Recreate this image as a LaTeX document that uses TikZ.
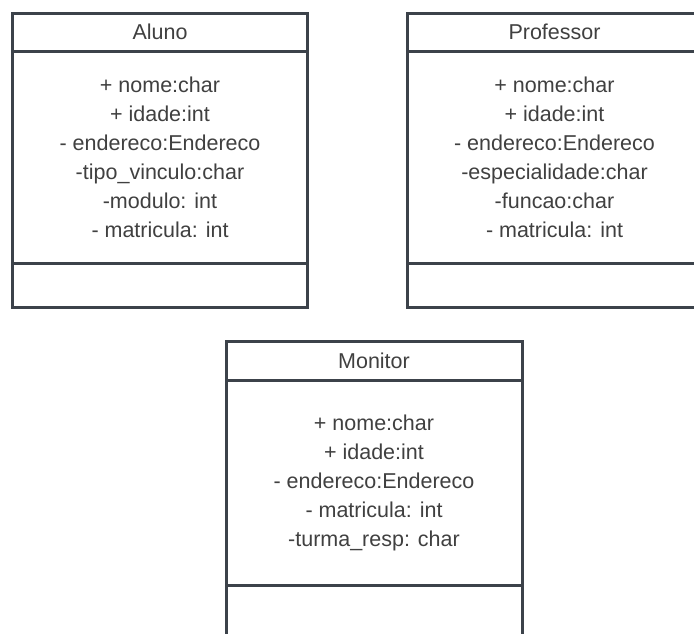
\documentclass[tikz,border=0pt]{standalone}
\usepackage{fontspec}
\setmainfont{Liberation Sans}
\usepackage{tikz}
\usetikzlibrary{positioning,shadows}

\definecolor{umlline}{HTML}{3C424A}
\definecolor{umltext}{HTML}{404040}

\begin{document}
\begin{tikzpicture}[x=1pt, y=-1pt,
  every node/.style={rectangle, draw=umlline, line width=3pt, fill=white, outer sep=0pt, inner sep=0pt,
    text=umltext, font=\fontsize{21.5}{29}\selectfont, align=center, minimum width=295pt,
    drop shadow={opacity=0.12, shadow xshift=1.5pt, shadow yshift=-1.5pt}},
  classname/.style={minimum height=38pt},
  classattrs/.style={minimum height=211.7pt},
  classops/.style={minimum height=44.7pt}]
\fill[white] (0,0) rectangle (694,633);
\useasboundingbox (0,0) rectangle (694,633);
\clip (0,0) rectangle (694,633);

% Aluno
\node[classname] (aluno) at (160,32.3) {Aluno};
\node[classattrs, below=0pt of aluno] (alunoAttrs) {+ nome:char\\+ idade:int\\- endereco:Endereco\\-tipo\_vinculo:char\\-modulo: int\\- matricula: int};
\node[classops, below=0pt of alunoAttrs] (alunoOps) {};

% Professor
\node[classname] (professor) at (554.5,32.3) {Professor};
\node[classattrs, below=0pt of professor] (professorAttrs) {+ nome:char\\+ idade:int\\- endereco:Endereco\\-especialidade:char\\-funcao:char\\- matricula: int};
\node[classops, below=0pt of professorAttrs] (professorOps) {};

% Monitor
\node[classname, minimum width=296pt, minimum height=39.4pt] (monitor) at (374,361) {Monitor};
\node[classattrs, minimum width=296pt, minimum height=205.2pt, below=0pt of monitor] (monitorAttrs) {+ nome:char\\+ idade:int\\- endereco:Endereco\\- matricula: int\\-turma\_resp: char};
\node[classops, minimum width=296pt, minimum height=60pt, below=0pt of monitorAttrs] (monitorOps) {};
\end{tikzpicture}
\end{document}
